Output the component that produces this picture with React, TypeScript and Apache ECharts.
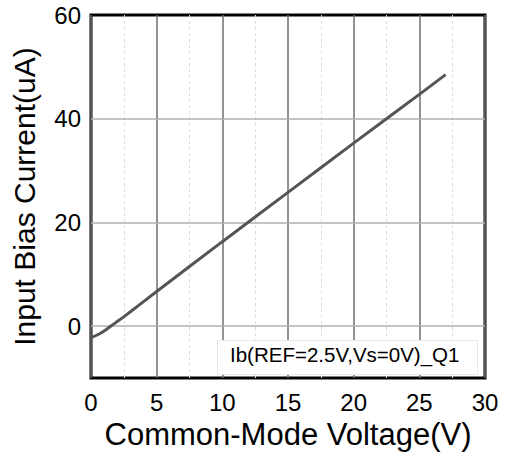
import React, { useEffect, useRef } from "react";
import * as echarts from "echarts";

const voltage = [0, 0.5, 1, 1.5, 2, 2.5, 3, 5, 10, 15, 20, 25, 27];
const current = [-2.2, -1.65, -0.9, 0.0, 0.9, 1.8, 2.8, 6.7, 16.3, 25.8, 35.3, 44.7, 48.5];
const seriesName = "Ib(REF=2.5V,Vs=0V)_Q1";
const yGridValues = [0, 20, 40];
const yLabelValues = [0, 20, 40, 60];

const FONT = "'Liberation Sans', Arial, sans-serif";

export default function App() {
  const ref = useRef<HTMLDivElement>(null);
  useEffect(() => {
    if (!ref.current) return;
    const chart = echarts.init(ref.current, null, { renderer: "svg" });
    chart.setOption({
      animation: false,
      backgroundColor: "#fff",
      textStyle: { fontFamily: FONT },
      grid: {
        left: 91,
        right: 20,
        top: 15,
        bottom: 75,
        show: true,
        borderColor: "#000",
        borderWidth: 3,
        backgroundColor: "transparent",
      },
      xAxis: {
        type: "value",
        min: 0,
        max: 30,
        interval: 5,
        name: "Common-Mode Voltage(V)",
        nameLocation: "middle",
        nameGap: 35,
        nameTextStyle: { fontSize: 31, color: "#000", fontFamily: FONT },
        axisLine: { show: false },
        axisTick: { show: false },
        axisLabel: { fontSize: 24, color: "#000", margin: 12, fontFamily: FONT },
        splitLine: { show: true, lineStyle: { color: "#6e6e6e", width: 1.5 } },
        minorTick: { show: false, splitNumber: 2 },
        minorSplitLine: { show: true, lineStyle: { color: "#dcdcdc", type: [3, 3], width: 1 } },
      },
      yAxis: {
        type: "value",
        min: -10,
        max: 60,
        interval: 10,
        name: "Input Bias Current(uA)",
        nameLocation: "middle",
        nameGap: 52,
        nameTextStyle: { fontSize: 30, color: "#000", fontFamily: FONT },
        axisLine: { show: false },
        axisTick: { show: false },
        axisLabel: {
          fontSize: 24,
          color: "#000",
          margin: 10,
          fontFamily: FONT,
          formatter: (v: number) => (yLabelValues.includes(v) ? String(v) : ""),
        },
        splitLine: { show: false },
      },
      series: [
        {
          name: seriesName,
          type: "line",
          data: voltage.map((x, i) => [x, current[i]]),
          showSymbol: false,
          smooth: 0.3,
          lineStyle: { color: "#555", width: 3 },
          z: 5,
          markLine: {
            silent: true,
            symbol: "none",
            label: { show: false },
            lineStyle: { color: "#b0b0b0", width: 1.5, type: "solid" },
            data: yGridValues.map((v) => ({ yAxis: v })),
            z: 1,
          },
        },
      ],
      graphic: [
        {
          type: "rect",
          left: 217,
          top: 340,
          shape: { width: 260, height: 34 },
          style: { fill: "#fff", stroke: "#e8e8e8", lineWidth: 1 },
          z: 10,
        },
        {
          type: "text",
          left: 230,
          top: 344,
          style: { text: seriesName, fontSize: 20.5, fill: "#000", fontFamily: FONT },
          z: 11,
        },
      ],
    });
    return () => chart.dispose();
  }, []);
  return (
    <div
      ref={ref}
      style={{ position: "fixed", left: 0, top: 0, width: 505, height: 455 }}
    />
  );
}
